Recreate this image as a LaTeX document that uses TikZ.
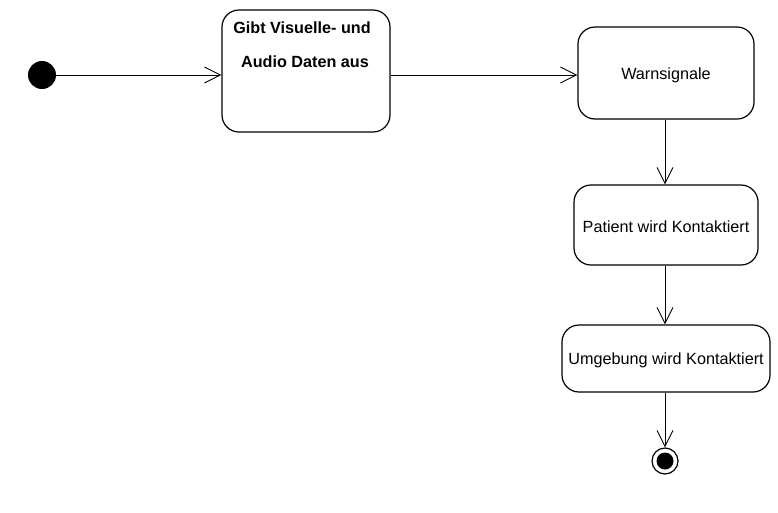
\documentclass[tikz,border=0pt]{standalone}
\usepackage{fontspec}
\setmainfont{Liberation Sans}
\usetikzlibrary{arrows.meta}
\begin{document}
\begin{tikzpicture}[x=1pt,y=-1pt,
  statebox/.style={draw=black,line width=1.2pt,rounded corners=17pt,fill=white,inner sep=0pt},
  boxtext/.style={font=\fontsize{16.2}{18}\selectfont},
  boldtext/.style={font=\bfseries\fontsize{16.2}{18}\selectfont},
  flow/.style={draw=black,line width=0.9pt,-{Straight Barb[length=16pt,width=16pt,line width=0.9pt]}},
  startdot/.style={circle,fill=black,minimum size=28pt,inner sep=0pt}]
\useasboundingbox (0,0) rectangle (778,512);
\node[startdot] (start) at (42,75) {};
\node[statebox,minimum width=168pt,minimum height=122pt] (b1) at (306,71) {};
\node[boldtext] (t1) at (302,28) {Gibt Visuelle- und};
\node[boldtext] (t2) at (305,62) {Audio Daten aus};
\node[statebox,minimum width=176pt,minimum height=92pt] (b2) at (666,73) {};
\node[boxtext] (t3) at (666,75) {Warnsignale};
\node[statebox,minimum width=184pt,minimum height=80pt] (b3) at (666,225) {};
\node[boxtext] (t4) at (666,226.5) {Patient wird Kontaktiert};
\node[statebox,minimum width=208pt,minimum height=67pt] (b4) at (666,358.5) {};
\node[boxtext] (t5) at (666,360) {Umgebung wird Kontaktiert};
\node[circle,draw=black,line width=1.2pt,minimum size=26pt,inner sep=0pt] (end) at (665,461) {};
\node[circle,fill=black,minimum size=17pt,inner sep=0pt] (endin) at (end.center) {};
\draw[flow] (start) -- (start -| b1.west);
\draw[flow] (b1.east |- start) -- (start -| b2.west);
\draw[flow] (b2.south -| end) -- (b3.north -| end);
\draw[flow] (b3.south -| end) -- (b4.north -| end);
\draw[flow] (b4.south -| end) -- (end.north);
\end{tikzpicture}
\end{document}
